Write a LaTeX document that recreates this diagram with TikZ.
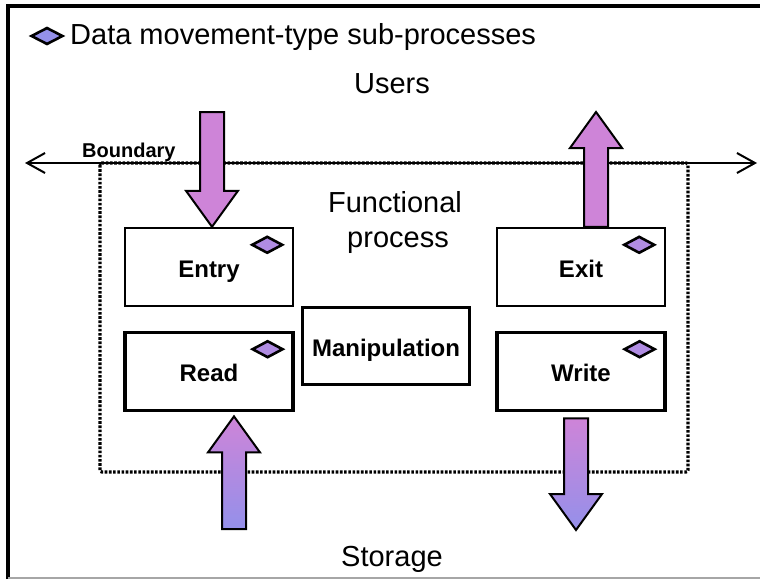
\documentclass[tikz,border=0pt]{standalone}
\usepackage{fontspec}
\setmainfont{Liberation Sans}
\usepackage{tikz}
\usetikzlibrary{positioning, arrows.meta, shapes.geometric, calc}

\definecolor{arrowpink}{RGB}{206,132,216}
\definecolor{arrowblue}{RGB}{148,144,234}
\definecolor{markfill}{RGB}{176,140,226}

% block arrow from #2 to #3 (head at #3)
\newcommand{\fatarrow}[3][]{%
  \path[fatarrow, #1] let \p1=(#2), \p2=(#3), \p3=($(#3)!36pt!(#2)$) in
    (\x1-12pt,\y1) -- (\x1-12pt,\y3) -- (\x1-26pt,\y3) -- (\x1,\y2)
    -- (\x1+26pt,\y3) -- (\x1+12pt,\y3) -- (\x1+12pt,\y1) -- cycle;}

\begin{document}
\begin{tikzpicture}[
        x=1pt, y=-1pt,
        procbox/.style={draw, line width=3.2pt, minimum width=168pt, minimum height=78pt,
                        inner sep=0pt, text height=20pt, text depth=0pt,
                        font=\bfseries\fontsize{24}{28}\selectfont},
        mvmark/.style={diamond, draw, line width=2.6pt, fill=markfill, aspect=2,
                       minimum width=31pt, minimum height=17pt, inner sep=0pt},
        fatarrow/.style={draw, line width=2pt, line join=miter},
        bigtext/.style={font=\fontsize{29}{34}\selectfont, anchor=base, inner sep=0pt},
        dotbox/.style={line width=3.2pt, dash pattern=on 2.6pt off 1.6pt, rounded corners=2pt},
        boundline/.style={line width=2pt, {Straight Barb[length=18pt,width=20pt]}-{Straight Barb[length=18pt,width=20pt]}}
    ]
        \useasboundingbox (0,0) rectangle (760,579);
        % frame
        \draw[line width=3.2pt] (8,579) -- (8,6) -- (760,6);
        \draw[gray!70, line width=1.5pt] (8,578) -- (760,578);

        % legend
        \node[mvmark, minimum width=32pt, minimum height=17pt, fill=arrowblue] (key) at (47,36) {};
        \node[font=\fontsize{29}{34}\selectfont, anchor=base west, inner sep=0pt] (keytext) at (70,44) {Data movement-type sub-processes};

        \node[bigtext] (users)   at (392,93)  {Users};
        \node[bigtext] (storage) at (392,566) {Storage};

        % boundary
        \coordinate (bl) at (25,163);
        \coordinate (br) at (757,163);
        \draw[boundline] (bl) -- (br);
        \draw[dotbox] (100,163) rectangle (688,472);
        \node[font=\bfseries\fontsize{20}{24}\selectfont, anchor=base west, inner sep=0pt] (bnd) at (82,157) {Boundary};

        \node[bigtext] (func) at (395,212) {Functional};
        \node[bigtext] (proc) at (398,247) {process};

        % sub-processes
        \node[procbox, line width=2.4pt]  (entry) at (209,267) {Entry};
        \node[procbox, below=24pt of entry] (read)             {Read};
        \node[procbox, line width=2.4pt]  (exit)  at (581,267) {Exit};
        \node[procbox, below=24pt of exit]  (write)            {Write};
        \node[procbox, minimum width=167pt, minimum height=77pt] (manip) at (386,346) {Manipulation};

        \foreach \b in {entry,read,exit,write}
            \node[mvmark] (\b-mark) at ($(\b.north east)+(-27,18)$) {};

        % data movements
        \coordinate (users-out) at (212,112);
        \coordinate (users-in)  at (596,112);
        \coordinate (store-in)  at (576,530);
        \coordinate (store-out) at (234,529);
        \fatarrow[fill=arrowpink]{users-out}{entry.north -| users-out}
        \fatarrow[fill=arrowpink]{exit.north -| users-in}{users-in}
        \fatarrow[top color=arrowpink, bottom color=arrowblue]{$(write.south -| store-in)+(0,6)$}{store-in}
        \fatarrow[top color=arrowpink, bottom color=arrowblue]{store-out}{$(read.south -| store-out)+(0,4)$}
    \end{tikzpicture}
\end{document}
